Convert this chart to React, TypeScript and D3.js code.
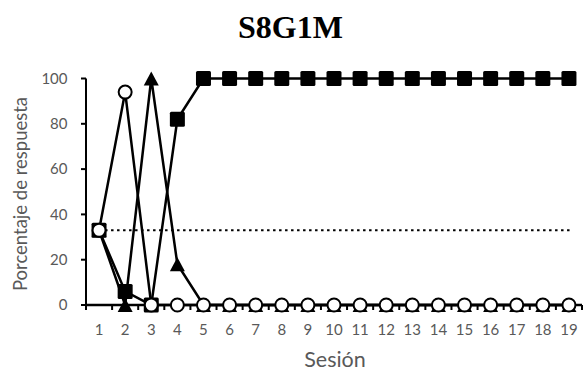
import React from 'react';
import * as d3 from 'd3';

// Sessions 1..19
const sessions = d3.range(1, 20);
const yTicks = [0, 20, 40, 60, 80, 100];

// Percentage of responses per session
const squareSeries = [33, 6, 0, 82, 100, 100, 100, 100, 100, 100, 100, 100, 100, 100, 100, 100, 100, 100, 100];
const triangleSeries = [33, 0, 100, 18, 0, 0, 0, 0, 0, 0, 0, 0, 0, 0, 0, 0, 0, 0, 0];
const circleSeries = [33, 94, 0, 0, 0, 0, 0, 0, 0, 0, 0, 0, 0, 0, 0, 0, 0, 0, 0];
const chanceLevel = 33;

const W = 584;
const H = 373;
const margin = { top: 78.5, right: 2, bottom: 68, left: 86 };

const labelFont = 'Lato, "Open Sans", sans-serif';
const grey = '#595959';

// marker shape for the triangle series (box-centred, like the spreadsheet marker)
const triangleMarker = 'M0,-7L7.5,7L-7.5,7Z';

export default function App() {
  const x = d3.scaleLinear()
    .domain([0.5, sessions.length + 0.5])
    .range([margin.left, W - margin.right]);
  const y = d3.scaleLinear()
    .domain([0, 100])
    .range([H - margin.bottom, margin.top]);

  const line = d3.line<number>()
    .x((_, i) => x(sessions[i]))
    .y(d => y(d));

  const boundaries = d3.range(0.5, sessions.length + 1, 1);

  return (
    <svg width={W} height={H} style={{ position: 'absolute', left: 0, top: 0, background: '#fff' }}>
      {/* title */}
      <text x={290.5} y={37.5} textAnchor="middle" fontFamily='"Liberation Serif", "Times New Roman", serif'
        fontWeight="bold" fontSize={32}>S8G1M</text>

      {/* y axis */}
      <line x1={x(0.5)} x2={x(0.5)} y1={y(100)} y2={y(0)} stroke="#000" strokeWidth={2} />
      {yTicks.map(t => (
        <g key={t}>
          <line x1={x(0.5) - 5} x2={x(0.5)} y1={y(t)} y2={y(t)} stroke="#000" strokeWidth={2} />
          <text x={67.5} y={y(t)} dy="0.35em" textAnchor="end" fill={grey}
            fontFamily={labelFont} fontSize={15}>{t}</text>
        </g>
      ))}

      {/* x axis */}
      <line x1={x(0.5)} x2={x(sessions.length + 0.5)} y1={y(0)} y2={y(0)} stroke="#000" strokeWidth={2.5} />
      {boundaries.map(b => (
        <line key={b} x1={x(b)} x2={x(b)} y1={y(0)} y2={y(0) + 5} stroke="#000" strokeWidth={2} />
      ))}
      {sessions.map(s => (
        <text key={s} x={x(s)} y={335} textAnchor="middle" fill={grey}
          fontFamily={labelFont} fontSize={15}>{s}</text>
      ))}

      {/* axis titles */}
      <text x={335} y={367} textAnchor="middle" fill={grey} fontFamily={labelFont} fontSize={21.5}>Sesión</text>
      <text transform={`translate(27, 194) rotate(-90)`} textAnchor="middle"
        fill={grey} fontFamily={labelFont} fontSize={18.5}>Porcentaje de respuesta</text>

      {/* chance line */}
      <line x1={x(1)} x2={570} y1={y(chanceLevel)} y2={y(chanceLevel)} stroke="#000"
        strokeWidth={2.2} strokeDasharray="2.5,3.5" />

      {/* squares */}
      <path d={line(squareSeries) ?? ''} fill="none" stroke="#000" strokeWidth={2.5} />
      {squareSeries.map((v, i) => (
        <rect key={i} x={x(sessions[i]) - 7.5} y={y(v) - 7.5} width={15} height={15} rx={1.5} fill="#000" />
      ))}

      {/* triangles */}
      <path d={line(triangleSeries) ?? ''} fill="none" stroke="#000" strokeWidth={2.5} />
      {triangleSeries.map((v, i) => (
        <path key={i} d={triangleMarker} transform={`translate(${x(sessions[i])},${y(v)})`} fill="#000" />
      ))}

      {/* circles */}
      <path d={line(circleSeries) ?? ''} fill="none" stroke="#000" strokeWidth={2.5} />
      {circleSeries.map((v, i) => (
        <circle key={i} cx={x(sessions[i])} cy={y(v)} r={6.5} fill="#fff" stroke="#000" strokeWidth={2} />
      ))}
    </svg>
  );
}
